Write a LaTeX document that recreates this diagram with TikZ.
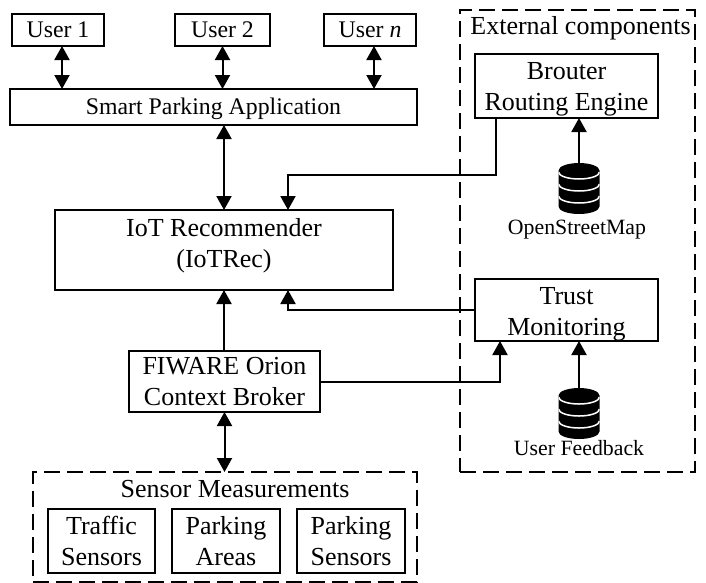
\documentclass[tikz,border=0pt]{standalone}
\usepackage{fontspec}
\setmainfont{Liberation Serif}
\usetikzlibrary{positioning, arrows.meta}
\newcommand{\pushdown}[1]{\rule{0pt}{#1}}
\newcommand{\pushup}[1]{\rule[-#1]{0pt}{0pt}}
\tikzset{
    block/.style={draw, line width=2pt, align=center, inner sep=0pt, outer sep=0pt, font=\fontsize{26}{31}\selectfont},
    smallblock/.style={block, font=\fontsize{23.8}{30}\selectfont},
    group/.style={draw, line width=2pt, dash pattern=on 16pt off 7pt, inner sep=0pt, outer sep=0pt},
    caption/.style={inner sep=0pt, font=\fontsize{26}{30}\selectfont},
    dblabel/.style={inner sep=0pt, font=\fontsize{21.8}{24}\selectfont},
    arrow/.style={line width=2pt, -{Triangle[length=14pt, width=15pt]}},
    twoway/.style={line width=2pt, {Triangle[length=14pt, width=15pt]}-{Triangle[length=14pt, width=15pt]}},
    dbstack/.style={inner sep=0pt, outer sep=0pt, minimum width=41pt, minimum height=51pt, path picture={
        \begin{scope}[shift={(path picture bounding box.center)}]
            \fill (-20.5pt,18pt) arc[start angle=180, end angle=0, x radius=20.5pt, y radius=7.5pt]
                -- (20.5pt,-18pt) arc[start angle=0, end angle=-180, x radius=20.5pt, y radius=7.5pt] -- cycle;
            \foreach \level in {16.5pt, 4.5pt, -7.5pt}
                \draw[white, line width=1.5pt] (-20.5pt,\level) arc[start angle=180, end angle=360, x radius=20.5pt, y radius=7pt];
        \end{scope}}},
}
\begin{document}
\begin{tikzpicture}[x=1pt, y=-1pt]
    \useasboundingbox (0,0) rectangle (706,582);
    % groups
    \node [group, minimum width=235pt, minimum height=462pt] (external) at (577.5,241) {};
    \node [group, minimum width=384pt, minimum height=110pt] (sensing) at (225,527) {};
    \node [caption, below=6pt of external.north, xshift=3pt] (externalcap) {External components};
    \node [caption, below=8pt of sensing.north, xshift=10pt] (sensingcap) {Sensor Measurements};

    % users and application
    \node [smallblock, minimum width=92pt, minimum height=32pt] (user1) at (58,30) {User 1};
    \node [smallblock, minimum width=95pt, minimum height=32pt] (user2) at (222.5,30) {User 2};
    \node [smallblock, minimum width=92pt, minimum height=32pt] (usern) at (370,30) {User \textit{n}};
    \node [smallblock, minimum width=407pt, minimum height=36pt] (app) at (213.5,107) {\pushdown{21pt}Smart Parking Application};

    % middle column
    \node [block, minimum width=338pt, minimum height=80pt] (iotrec) at (224,250) {IoT Recommender\\(IoTRec)\pushup{14pt}};
    \node [block, minimum width=191pt, minimum height=61pt] (orion) at (224.5,381.5) {FIWARE Orion\\Context Broker};

    % sensors
    \node [block, minimum width=107pt, minimum height=64pt] (traffic) at (101.5,541) {Traffic\\Sensors};
    \node [block, minimum width=108pt, minimum height=64pt, right=17pt of traffic] (areas) {Parking\\Areas};
    \node [block, minimum width=108pt, minimum height=64pt, right=17pt of areas] (parking) {Parking\\Sensors};

    % external components
    \node [block, minimum width=183pt, minimum height=64pt] (brouter) at (566.5,86) {\pushdown{24pt}Brouter\\Routing Engine};
    \node [block, minimum width=183pt, minimum height=62pt] (trust) at (566.5,310) {\pushdown{25pt}Trust\\Monitoring};
    \node [dbstack] (osmdb) at (579,188.5) {};
    \node [dbstack] (userdb) at (579,413.5) {};
    \node [dblabel, below=6pt of osmdb, xshift=-2pt] (osm) {OpenStreetMap};
    \node [dblabel, below=1pt of userdb] (feedback) {User Feedback};

    \coordinate (brouterout) at (496,118);
    \coordinate (trustin) at (500,341);
    \coordinate (iotin) at (288,210);
    \coordinate (iotback) at (288,290);
    \coordinate (user1port) at (62,89);
    \coordinate (usernport) at (374,89);

    \draw [twoway] (user1.south -| user1port) -- (user1port);
    \draw [twoway] (user2.south) -- (app.north -| user2.south);
    \draw [twoway] (usern.south -| usernport) -- (usernport);
    \draw [twoway] (app.south -| iotrec) -- (iotrec.north);
    \draw [arrow] (orion.north -| iotrec) -- (iotrec.south);
    \draw [twoway] (orion.south) -- (sensing.north -| orion.south);
    \draw [arrow] (brouterout) |- (iotin |- 0,175) -- (iotin);
    \draw [arrow] (trust.west) -- (iotback |- trust.west) -- (iotback);
    \draw [arrow] (orion.east) -- (trustin |- orion.east) -- (trustin);
    \draw [arrow] (osmdb.north) -- (brouter.south -| osmdb);
    \draw [arrow] (userdb.north) -- (trust.south -| userdb);
\end{tikzpicture}
\end{document}
